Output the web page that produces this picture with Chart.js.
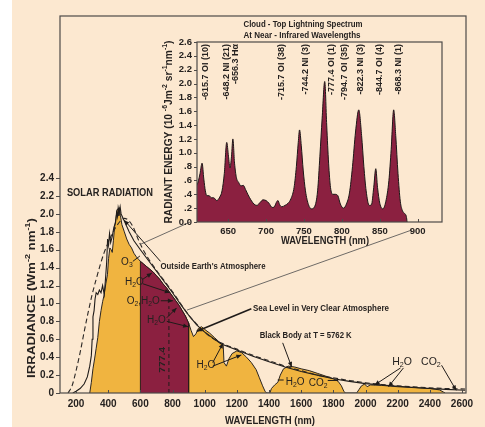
<!DOCTYPE html>
<html>
<head>
<meta charset="utf-8">
<title>Solar Radiation and Cloud-Top Lightning Spectrum</title>
<script src="https://cdn.jsdelivr.net/npm/chart.js@4.4.1/dist/chart.umd.min.js"></script>
<style>
  html, body { margin: 0; padding: 0; }
  body {
    width: 485px; height: 427px; overflow: hidden; position: relative;
    background: linear-gradient(to right, #ffffff 0, #ffffff 12px, #fce8d0 12px);
  }
  #main { position: absolute; left: 0; top: 0; }
  #inset { position: absolute; left: 140px; top: 16px; }
</style>
</head>
<body>
<canvas id="main" width="485" height="427"></canvas>
<canvas id="inset" width="330" height="234"></canvas>
<script>
// ---------------- Solar spectrum (main panel) ----------------
// wavelength (nm) and spectral irradiance (W m^-2 nm^-1)
const seaLevelNm = [285,295,305,315,325,335,345,355,365,375,385,395,402,410,418,425,432,440,448,455,
  462,466,470,476,485,500,515,530,545,560,575,590,600,620,640,660,680,700,720,740,
  760,780,800,820,840,860,880,900,915,930,945,960,980,1000,1030,1060,1090,1105,1115,1120,
  1135,1150,1170,1200,1230,1260,1290,1320,1340,1360,1375,1385,1405,1415,1435,1455,1470,1490,1520,1560,
  1600,1650,1700,1750,1800,1830,1850,1865,1875,1945,1960,1975,1995,2010,2030,2100,2200,2300,2400,2460,
  2485,2495];
const seaLevelIrr = [0,0.12,0.27,0.38,0.5,0.62,0.8,0.92,1.02,1.1,1.22,1.32,1.5,1.62,1.6,1.57,1.7,1.86,1.95,2.04,
  2.06,1.98,2.07,1.98,1.88,1.8,1.72,1.66,1.62,1.56,1.52,1.49,1.47,1.44,1.41,1.38,1.35,1.31,1.27,1.22,
  1.18,1.13,1.08,1.03,0.98,0.92,0.86,0.78,0.7,0.63,0.66,0.72,0.74,0.71,0.67,0.62,0.57,0.55,0.53,0.34,
  0.3,0.38,0.44,0.47,0.45,0.4,0.34,0.26,0.17,0.08,0.02,0,0,0.05,0.09,0.12,0.2,0.27,0.3,0.29,
  0.27,0.25,0.22,0.19,0.16,0.13,0.08,0.02,0,0,0.04,0.08,0.1,0.07,0.09,0.085,0.07,0.06,0.05,0.035,
  0.01,0];

const outsideNm = [180,200,225,250,270,285,295,300,305,312,318,325,335,345,355,365,375,382,390,396,
  402,408,415,425,435,445,452,458,462,468,474,480,490,510,530,560,600,650,700,750,
  800,850,900,950,1000,1100,1200,1300,1400,1500,1600,1700,1800,1900,2000,2200,2400,2500,2620];
const outsideIrr = [0,0.02,0.05,0.1,0.18,0.3,0.42,0.6,0.85,0.92,1.05,1.12,1.1,1.15,1.12,1.2,1.1,1.25,1.45,1.72,
  1.65,1.78,1.68,1.75,1.85,1.9,2.02,1.97,2.07,2.02,2.08,2.0,1.96,1.88,1.8,1.7,1.6,1.48,1.36,1.24,
  1.12,0.99,0.87,0.76,0.68,0.55,0.48,0.41,0.35,0.29,0.24,0.2,0.16,0.13,0.105,0.075,0.05,0.04,0.03];

const blackBodyNm = [150,175,200,225,250,275,300,325,350,375,400,425,450,475,500,525,550,600,650,700,
  750,800,850,900,950,1000,1050,1100,1200,1300,1400,1500,1600,1700,1800,1900,2000,2100,2200,2300,
  2400,2500,2620];
const blackBodyIrr = [0,0.08,0.25,0.45,0.68,0.9,1.1,1.27,1.43,1.57,1.68,1.78,1.86,1.92,1.95,1.93,1.87,1.66,1.5,1.37,
  1.25,1.13,1.0,0.87,0.77,0.68,0.61,0.56,0.49,0.42,0.36,0.3,0.25,0.2,0.17,0.14,0.115,0.095,0.08,0.068,
  0.058,0.05,0.045];

const bandLimitsNm = [600, 900];     // band shown enlarged in the inset
const oxygenLineNm = 777.4;          // OI line marked on the solar curve
const oxygenLineTop = 0.97;

const mainXTicks = [200,400,600,800,1000,1200,1400,1600,1800,2000,2200,2400,2600];
const mainYTicks = [0,0.2,0.4,0.6,0.8,1.0,1.2,1.4,1.6,1.8,2.0,2.2,2.4];

// ---------------- Lightning spectrum (inset) ----------------
const lightningNm = [609,611,613,615.7,618,620,622,625,628,631,635,639,642,645,648.2,650.5,652.5,654.5,656.3,658.5,
  661,664,667,670,673,676,680,684,688,692,696,700,704,708,711,713.5,715.7,718,721,725,
  729,733,737,740,742.5,744.2,746.5,749,752,756,760,764,768,771,774,777.4,780,782.5,785,788,
  791,794.7,798,802,806,810,814,818,822.3,826,829,832,836,839,842,844.7,847,850,854,858,
  862,865,868.3,871,874,877,880,883,885,886];
const lightningEnergy = [0.53,0.6,0.7,0.85,0.62,0.45,0.38,0.38,0.35,0.35,0.31,0.36,0.45,0.7,1.15,0.95,0.78,0.95,1.2,0.85,
  0.64,0.57,0.52,0.53,0.47,0.4,0.32,0.26,0.24,0.28,0.32,0.31,0.27,0.21,0.22,0.28,0.31,0.25,0.22,0.24,
  0.27,0.34,0.5,0.8,1.15,1.33,1.1,0.75,0.45,0.25,0.19,0.22,0.45,0.95,1.5,2.03,1.4,0.85,0.5,0.4,
  0.4,0.38,0.26,0.2,0.26,0.42,0.8,1.3,1.62,1.25,0.8,0.45,0.24,0.25,0.5,0.77,0.5,0.27,0.19,0.3,
  0.6,1.05,1.62,1.25,0.7,0.3,0.16,0.12,0.08,0];

const emissionNm = [615.7,648.2,656.3,715.7,744.2,777.4,794.7,822.3,844.7,868.3];
const emissionLabels = ['-615.7 OI (10)','-648.2 NI (21)','-656.3 H\u03b1','-715.7 OI (38)','-744.2 NI (3)',
  '-777.4 OI (1)','-794.7 OI (35)','-822.3 NI (3)','-844.7 OI (4)','-868.3 NI (1)'];

const insetXTicks = [650,700,750,800,850,900];
const insetYTicks = [0,0.2,0.4,0.6,0.8,1.0,1.2,1.4,1.6,1.8,2.0,2.2,2.4,2.6];
const insetYTickLabels = ['0.0','.2','.4','.6','.8','1.0','1.2','1.4','1.6','1.8','2.0','2.2','2.4','2.6'];

// ---------------- styling ----------------
const INK = '#262220';
const FRAME = '#4d4a48';
const GOLD = '#f0b440';
const MAROON = '#8b2040';
const NARROW = "'Liberation Sans Narrow','Arial Narrow','Liberation Sans',Arial,sans-serif";
const SANS = "'Liberation Sans',Arial,sans-serif";
const INSET_LEFT = 140, INSET_TOP = 16;
// horizontal nudge (px) of each emission label so neighbouring labels stay apart
const emissionLabelNudge = [3, 0, 3, 4, 6, 7, 7, 2, 4, 5];

// text labels on the solar panel, anchored in data units (nm, irradiance)
const notes = [
  {t:'SOLAR RADIATION', at:[143,2.23], align:'left', size:10.5, bold:true, w:86},
  {t:"Outside Earth's Atmosphere", at:[725,1.41], align:'left', size:9, bold:true, w:105},
  {t:'Sea Level in Very Clear Atmosphere', at:[1300,0.94], align:'left', size:9, bold:true, w:136},
  {t:'Black Body at T = 5762 K', at:[1342,0.64], align:'left', size:9, bold:true, w:92},
  {t:'O_3', at:[516,1.46], align:'center', size:10},
  {t:'H_2O', at:[563,1.24], align:'center', size:10},
  {t:'O_2,H_2O', at:[618,1.03], align:'center', size:10},
  {t:'H_2O', at:[699,0.815], align:'center', size:10},
  {t:'H_2O', at:[1007,0.31], align:'center', size:10},
  {t:'H_2O', at:[1563,0.12], align:'center', size:10},
  {t:'CO_2', at:[1706,0.11], align:'center', size:10},
  {t:'H_2O', at:[2227,0.35], align:'center', size:10.5},
  {t:'CO_2', at:[2407,0.35], align:'center', size:10.5}
];
const leaders = [
  {from:[725,1.47], to:[500,1.93], head:true},
  {from:[1290,0.94], to:[951,0.69], head:true, lw:1.6},
  {from:[1485,0.56], to:[1541,0.29], head:true},
  {from:[553,1.47], to:[597,1.53]},
  {from:[615,1.27], to:[671,1.34], head:true},
  {from:[615,1.22], to:[783,1.12], head:true},
  {from:[727,1.03], to:[802,1.03], head:true},
  {from:[764,0.84], to:[825,0.95], head:true},
  {from:[764,0.80], to:[897,0.74], head:true},
  {from:[1050,0.34], to:[1114,0.555], head:true},
  {from:[1050,0.30], to:[1228,0.425], head:true},
  {from:[1491,0.145], to:[1454,0.145]},
  {from:[1765,0.14], to:[1830,0.14]},
  {from:[2218,0.28], to:[2057,0.09], head:true},
  {from:[2236,0.28], to:[2143,0.07], head:true},
  {from:[2473,0.31], to:[2564,0.03], head:true}
];

// ---------------- helpers ----------------
function interp(xs, ys, v) {
  for (let i = 1; i < xs.length; i++) {
    if (xs[i] >= v) {
      const t = (v - xs[i-1]) / (xs[i] - xs[i-1]);
      return ys[i-1] + t * (ys[i] - ys[i-1]);
    }
  }
  return ys[ys.length - 1];
}

// "H_2O" -> subscript 2, "m^{-2}" -> superscript -2
function richParts(str) {
  const parts = []; let buf = ''; let i = 0;
  while (i < str.length) {
    const c = str[i];
    if (c === '_' || c === '^') {
      if (buf) { parts.push({t: buf, m: 0}); buf = ''; }
      let t;
      if (str[i+1] === '{') { const j = str.indexOf('}', i); t = str.slice(i+2, j); i = j + 1; }
      else { t = str[i+1]; i += 2; }
      parts.push({t, m: c === '_' ? 1 : -1});
    } else { buf += c; i++; }
  }
  if (buf) parts.push({t: buf, m: 0});
  return parts;
}

function drawRich(ctx, str, x, y, o) {
  const parts = richParts(str);
  const fam = o.family || (o.bold ? NARROW : SANS);
  const fontFor = m => `${o.bold ? 'bold ' : ''}${m ? o.size * 0.68 : o.size}px ${fam}`;
  let total = 0;
  parts.forEach(p => { ctx.font = fontFor(p.m); p.w = ctx.measureText(p.t).width; total += p.w; });
  const sx = o.w ? o.w / total : 1;
  ctx.save();
  ctx.translate(x, y);
  if (o.rot) ctx.rotate(o.rot);
  ctx.scale(sx, 1);
  let cx = o.align === 'center' ? -total / 2 : (o.align === 'right' ? -total : 0);
  ctx.fillStyle = o.color || INK;
  ctx.textBaseline = 'middle';
  ctx.textAlign = 'left';
  parts.forEach(p => {
    ctx.font = fontFor(p.m);
    const dy = p.m === 1 ? o.size * 0.32 : (p.m === -1 ? -o.size * 0.34 : 0);
    ctx.fillText(p.t, cx, dy);
    cx += p.w;
  });
  ctx.restore();
}

function arrowLine(ctx, x1, y1, x2, y2, head, lw) {
  ctx.lineWidth = lw || 1;
  ctx.beginPath(); ctx.moveTo(x1, y1); ctx.lineTo(x2, y2); ctx.stroke();
  if (head) {
    const a = Math.atan2(y2 - y1, x2 - x1), L = 5, W = 2.2;
    ctx.beginPath();
    ctx.moveTo(x2, y2);
    ctx.lineTo(x2 - L*Math.cos(a) + W*Math.sin(a), y2 - L*Math.sin(a) - W*Math.cos(a));
    ctx.lineTo(x2 - L*Math.cos(a) - W*Math.sin(a), y2 - L*Math.sin(a) + W*Math.cos(a));
    ctx.closePath(); ctx.fill();
  }
}

function drawTickMarks(ctx, chart, xLen, yLen) {
  const {chartArea: a, scales: {x, y}} = chart;
  ctx.strokeStyle = FRAME; ctx.lineWidth = 1;
  ctx.beginPath();
  x.ticks.forEach(t => { const px = Math.round(x.getPixelForValue(t.value)) + 0.5; ctx.moveTo(px, a.bottom); ctx.lineTo(px, a.bottom + xLen); });
  y.ticks.forEach(t => { const py = Math.round(y.getPixelForValue(t.value)) + 0.5; ctx.moveTo(a.left, py); ctx.lineTo(a.left + yLen, py); });
  ctx.stroke();
}

// ---------------- inset chart ----------------
const insetDecor = {
  id: 'insetDecor',
  afterDraw(chart) {
    const {ctx, chartArea: a, scales: {x}} = chart;
    ctx.save();
    ctx.strokeStyle = FRAME; ctx.lineWidth = 1.2;
    ctx.strokeRect(a.left, a.top, a.right - a.left, a.bottom - a.top);
    drawTickMarks(ctx, chart, -3, -3);
    // titles
    drawRich(ctx, 'Cloud - Top Lightning Spectrum', 163, 9, {size: 9, bold: true, align: 'center', w: 119});
    drawRich(ctx, 'At Near - Infrared Wavelengths', 162, 20, {size: 9, bold: true, align: 'center', w: 117});
    drawRich(ctx, 'WAVELENGTH (nm)', 185, 225, {size: 10, bold: true, align: 'center', w: 88});
    drawRich(ctx, 'RADIANT ENERGY (10 ^{-6}Jm^{-2} sr^{-1}nm^{-1})', 29, (a.top + a.bottom) / 2,
      {size: 10, bold: true, align: 'center', rot: -Math.PI / 2, w: 183});
    // emission line identifications
    emissionNm.forEach((nm, i) => {
      drawRich(ctx, emissionLabels[i], x.getPixelForValue(nm) + emissionLabelNudge[i], a.top + 2,
        {size: 9, bold: true, align: 'right', rot: -Math.PI / 2});
    });
    ctx.restore();
  }
};

const insetChart = new Chart(document.getElementById('inset'), {
  type: 'line',
  data: {
    datasets: [{
      data: lightningNm.map((nm, i) => ({x: nm, y: lightningEnergy[i]})),
      fill: 'origin',
      backgroundColor: MAROON,
      borderColor: '#1d1717',
      borderWidth: 1,
      pointRadius: 0,
      cubicInterpolationMode: 'monotone'
    }]
  },
  options: {
    responsive: false, animation: false, devicePixelRatio: 1,
    layout: {padding: {left: 0, top: 26, right: 28, bottom: 0}},
    plugins: {legend: {display: false}, tooltip: {enabled: false}},
    scales: {
      x: {
        type: 'linear', min: 609, max: 932,
        afterBuildTicks: s => { s.ticks = insetXTicks.map(v => ({value: v})); },
        afterFit: s => { s.height = 28; },
        grid: {display: false, drawTicks: false}, border: {display: false},
        ticks: {padding: 4, color: INK, autoSkip: false, maxRotation: 0,
          font: {family: NARROW, size: 9.5, weight: 'bold'},
          callback: v => String(v)}
      },
      y: {
        type: 'linear', min: 0, max: 2.6,
        afterBuildTicks: s => { s.ticks = insetYTicks.map(v => ({value: v})); },
        afterFit: s => { s.width = 57; },
        grid: {display: false, drawTicks: false}, border: {display: false},
        ticks: {padding: 5, color: INK, autoSkip: false,
          font: {family: NARROW, size: 9.5, weight: 'bold'},
          callback: (v, i) => insetYTickLabels[i]}
      }
    }
  },
  plugins: [insetDecor]
});

// ---------------- main chart ----------------
const seaPts = seaLevelNm.map((nm, i) => ({x: nm, y: seaLevelIrr[i]}));
const bandPts = [
  {x: bandLimitsNm[0], y: 0},
  {x: bandLimitsNm[0], y: interp(seaLevelNm, seaLevelIrr, bandLimitsNm[0])},
  ...seaPts.filter(p => p.x > bandLimitsNm[0] && p.x < bandLimitsNm[1]),
  {x: bandLimitsNm[1], y: interp(seaLevelNm, seaLevelIrr, bandLimitsNm[1])},
  {x: bandLimitsNm[1], y: 0}
];

const mainDecor = {
  id: 'mainDecor',
  afterDraw(chart) {
    const {ctx, chartArea: a, scales: {x, y}} = chart;
    const P = (nm, v) => [x.getPixelForValue(nm), y.getPixelForValue(v)];
    ctx.save();
    ctx.strokeStyle = FRAME; ctx.lineWidth = 1.2;
    ctx.strokeRect(a.left, a.top, a.right - a.left, a.bottom - a.top);
    drawTickMarks(ctx, chart, -3, -4);

    // lines tying the 600-900 nm band to the inset axis
    const ix = insetChart.scales.x, iy = insetChart.scales.y;
    ctx.strokeStyle = '#6e6a66'; ctx.lineWidth = 1;
    const s1 = P(bandLimitsNm[0], interp(outsideNm, outsideIrr, bandLimitsNm[0]) + 0.06);
    const e1 = [INSET_LEFT + ix.getPixelForValue(bandLimitsNm[0]), INSET_TOP + iy.getPixelForValue(0)];
    const s2 = P(bandLimitsNm[1] - 10, interp(blackBodyNm, blackBodyIrr, bandLimitsNm[1] - 10) + 0.03);
    const e2 = [INSET_LEFT + ix.getPixelForValue(bandLimitsNm[1]) - 6, INSET_TOP + iy.getPixelForValue(0) + 8];
    ctx.beginPath();
    ctx.moveTo(s1[0], s1[1]); ctx.lineTo(e1[0], e1[1]);
    ctx.moveTo(s2[0], s2[1]); ctx.lineTo(e2[0], e2[1]);
    ctx.stroke();

    // leader lines and arrows
    ctx.strokeStyle = '#1f1b19'; ctx.fillStyle = '#1f1b19';
    leaders.forEach(l => {
      const [x1, y1] = P(l.from[0], l.from[1]);
      const [x2, y2] = P(l.to[0], l.to[1]);
      arrowLine(ctx, x1, y1, x2, y2, l.head, l.lw);
    });

    // text labels
    notes.forEach(n => {
      const [px, py] = P(n.at[0], n.at[1]);
      drawRich(ctx, n.t, px, py, n);
    });
    const [lx, ly] = P(oxygenLineNm - 43, 0.37);
    drawRich(ctx, String(oxygenLineNm), lx, ly, {size: 9.5, bold: true, align: 'center', rot: -Math.PI / 2, w: 26});

    // axis titles
    drawRich(ctx, 'WAVELENGTH (nm)', 270, 421, {size: 10.5, bold: true, align: 'center', w: 90});
    drawRich(ctx, 'IRRADIANCE (Wm^{-2} nm^{-1})', 32, 298, {size: 11, bold: true, align: 'center', rot: -Math.PI / 2, w: 160});
    ctx.restore();
  }
};

new Chart(document.getElementById('main'), {
  type: 'line',
  data: {
    datasets: [
      { // black body curve
        data: blackBodyNm.map((nm, i) => ({x: nm, y: blackBodyIrr[i]})),
        borderColor: '#2b2725', borderWidth: 1.1, borderDash: [5, 3], fill: false,
        pointRadius: 0, cubicInterpolationMode: 'monotone', order: 0
      },
      { // outside the atmosphere
        data: outsideNm.map((nm, i) => ({x: nm, y: outsideIrr[i]})),
        borderColor: '#1f1b19', borderWidth: 1.1, fill: false, pointRadius: 0, tension: 0, order: 1
      },
      { // OI 777.4 nm marker
        data: [{x: oxygenLineNm, y: 0}, {x: oxygenLineNm, y: oxygenLineTop}],
        borderColor: '#1f1b19', borderWidth: 1, borderDash: [4, 3], fill: false, pointRadius: 0, order: 2
      },
      { // 600-900 nm band at sea level
        data: bandPts,
        borderColor: '#2a1a1a', borderWidth: 1, backgroundColor: MAROON, fill: 'origin',
        pointRadius: 0, tension: 0, order: 3
      },
      { // sea level, very clear atmosphere
        data: seaPts,
        borderColor: '#2a2420', borderWidth: 1, backgroundColor: GOLD, fill: 'origin',
        pointRadius: 0, tension: 0, order: 4
      }
    ]
  },
  options: {
    responsive: false, animation: false, devicePixelRatio: 1,
    layout: {padding: {left: 0, top: 16, right: 19, bottom: 0}},
    plugins: {legend: {display: false}, tooltip: {enabled: false}},
    scales: {
      x: {
        type: 'linear', min: 100, max: 2625,
        afterBuildTicks: s => { s.ticks = mainXTicks.map(v => ({value: v})); },
        afterFit: s => { s.height = 34; },
        grid: {display: false, drawTicks: false}, border: {display: false},
        ticks: {padding: 5, color: INK, autoSkip: false, maxRotation: 0,
          font: {family: NARROW, size: 10, weight: 'bold'},
          callback: v => String(v)}
      },
      y: {
        type: 'linear', min: 0, max: 4.21,
        afterBuildTicks: s => { s.ticks = mainYTicks.map(v => ({value: v})); },
        afterFit: s => { s.width = 60; },
        grid: {display: false, drawTicks: false}, border: {display: false},
        ticks: {padding: 6, color: INK, autoSkip: false,
          font: {family: NARROW, size: 10, weight: 'bold'},
          callback: v => (v === 0 ? '0' : v.toFixed(1))}
      }
    }
  },
  plugins: [mainDecor]
});
</script>
</body>
</html>
